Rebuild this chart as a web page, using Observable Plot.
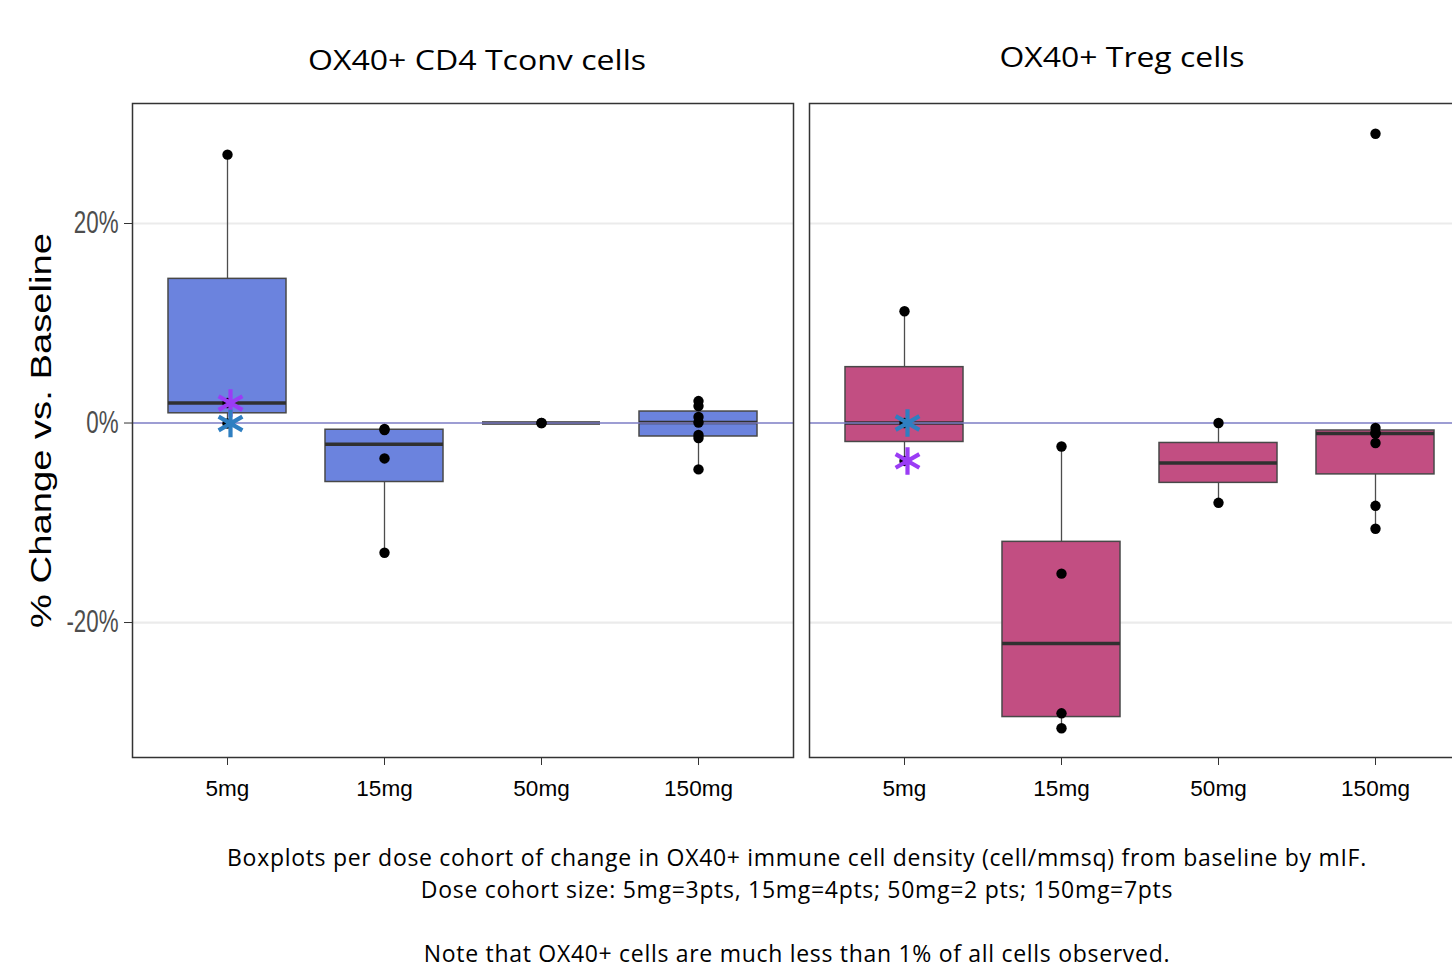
<!DOCTYPE html>
<html>
<head>
<meta charset="utf-8">
<script src="https://cdn.jsdelivr.net/npm/d3@7"></script>
<script src="https://cdn.jsdelivr.net/npm/@observablehq/plot@0.6"></script>
<style>
  body { margin: 0; background: #fff; overflow: hidden; }
  #wrap { position: relative; width: 1452px; height: 968px; overflow: hidden; background: #fff; }
  #chart { position: absolute; left: 0; top: 0; width: 1470px; }
  #chart svg { max-width: none !important; }
  #caption { position: absolute; left: 142px; width: 1310px; top: 841px; text-align: center;
             font-family: "Open Sans", Lato, sans-serif; font-size: 23px; letter-spacing: 0.7px;
             line-height: 32px; color: #000; }
</style>
</head>
<body>
<div id="wrap">
  <div id="chart"></div>
  <div id="caption">
    <div>Boxplots per dose cohort of change in OX40+ immune cell density (cell/mmsq) from baseline by mIF.</div>
    <div>Dose cohort size: 5mg=3pts, 15mg=4pts; 50mg=2 pts; 150mg=7pts</div>
    <div>&nbsp;</div>
    <div>Note that OX40+ cells are much less than 1% of all cells observed.</div>
  </div>
</div>
<script>
// ---- data (% change vs. baseline) ----
const panels = ["OX40+ CD4 Tconv cells", "OX40+ Treg cells"];
const doses = ["5mg", "15mg", "50mg", "150mg"];
const tconv5 = [-0.05, 2.0, 26.9];
const tconv15 = [-13.0, -3.55, -0.7, -0.6];
const tconv50 = [0.0, 0.0];
const tconv150 = [-4.65, -1.5, -1.2, 0.05, 0.6, 1.7, 2.2];
const treg5 = [-3.8, 0.0, 11.2];
const treg15 = [-30.6, -29.1, -15.1, -2.35];
const treg50 = [-8.0, 0.0];
const treg150 = [-10.6, -8.3, -2.0, -1.05, -1.0, -0.5, 29.0];
// highlighted 5mg patients (asterisks), one value per panel
const patientPurple = [2.0, -3.8];
const patientBlue = [-0.05, 0.0];
const yTicks = [-20, 0, 20];
const panelFill = ["#6b83de", "#c24e82"];
const starColors = ["#9b3cf5", "#2f7fc1"];

// ---- build tables ----
const series = [
  [tconv5, tconv15, tconv50, tconv150],
  [treg5, treg15, treg50, treg150]
];
const points = [];
const boxes = [];
series.forEach((row, pi) => {
  row.forEach((vals, di) => {
    vals.forEach(v => points.push({panel: panels[pi], dose: doses[di], value: v}));
    const s = vals.slice().sort(d3.ascending);
    const q1 = d3.quantileSorted(s, 0.25), med = d3.quantileSorted(s, 0.5), q3 = d3.quantileSorted(s, 0.75);
    const iqr = q3 - q1;
    const lo = d3.min(s.filter(v => v >= q1 - 1.5 * iqr));
    const hi = d3.max(s.filter(v => v <= q3 + 1.5 * iqr));
    boxes.push({panel: panels[pi], dose: doses[di], q1, med, q3, lo, hi, fill: panelFill[pi]});
  });
});
const stars = [];
panels.forEach((p, pi) => {
  stars.push({panel: p, dose: doses[0], value: patientPurple[pi], color: starColors[0]});
  stars.push({panel: p, dose: doses[0], value: patientBlue[pi], color: starColors[1]});
});

const chart = Plot.plot({
  width: 1470,
  height: 820,
  marginTop: 103,
  marginBottom: 63,
  marginLeft: 132,
  marginRight: 0,
  style: {fontFamily: "'Liberation Sans', Arial, sans-serif", background: "white", overflow: "visible", maxWidth: "none"},
  fx: {domain: panels, paddingInner: 16 / 677, paddingOuter: 0, axis: null},
  x: {domain: doses, paddingInner: 0.25, paddingOuter: 0.225, axis: null},
  y: {domain: [-33.53, 32.03], axis: null},
  color: {type: "identity"},
  marks: [
    Plot.ruleY(yTicks.filter(d => d !== 0), {stroke: "#ebebeb", strokeWidth: 2.2}),
    Plot.ruleX(boxes, {fx: "panel", x: "dose", y1: "q3", y2: "hi", stroke: "#4d4d4d", strokeWidth: 1.3}),
    Plot.ruleX(boxes, {fx: "panel", x: "dose", y1: "lo", y2: "q1", stroke: "#4d4d4d", strokeWidth: 1.3}),
    Plot.barY(boxes, {fx: "panel", x: "dose", y1: "q1", y2: "q3", fill: "fill", stroke: "#484848", strokeWidth: 1.5}),
    Plot.tickY(boxes, {fx: "panel", x: "dose", y: "med", stroke: "#303030", strokeWidth: 3.5}),
    Plot.ruleY([0], {stroke: "#7c7cc4", strokeOpacity: 0.75, strokeWidth: 2}),
    Plot.dot(points, {fx: "panel", x: "dose", y: "value", r: 5.2, fill: "black"}),
    Plot.dot(stars, {fx: "panel", x: "dose", y: "value", symbol: "asterisk", r: 13, stroke: "color", strokeWidth: 4.2, dx: 3}),
    Plot.frame({stroke: "#333", strokeWidth: 1.5}),
    Plot.axisY({ticks: yTicks, tickFormat: d => d + "%", tickSize: 8, tickPadding: 6, fontSize: 31, stroke: "#333", fill: "#4d4d4d", label: null}),
    Plot.axisX({tickSize: 8, tickPadding: 15, fontSize: 22.5, stroke: "#333", fill: "black", label: null}),
    Plot.text([panels[0]], {fx: d => d, text: () => "% Change vs. Baseline", frameAnchor: "left", rotate: -90, dx: -91, fontSize: 29, fill: "black"}),
    Plot.text([panels[0]], {fx: d => d, text: d => d, frameAnchor: "top", dy: -53, dx: 14, fontSize: 28, fontFamily: "'Open Sans'", fill: "black"}),
    Plot.text([panels[1]], {fx: d => d, text: d => d, frameAnchor: "top", dy: -56, dx: -18, fontSize: 28, fontFamily: "'Open Sans'", fill: "black"})
  ]
});
document.getElementById("chart").appendChild(chart);

// stretch text to match the reference proportions
chart.querySelectorAll('g[aria-label="y-axis tick label"] text').forEach(t => {
  const w = t.getComputedTextLength();
  t.setAttribute("textLength", (w * 0.72).toFixed(1));
  t.setAttribute("lengthAdjust", "spacingAndGlyphs");
});
const fixedLengths = {"% Change vs. Baseline": 395, "OX40+ CD4 Tconv cells": 338, "OX40+ Treg cells": 245};
chart.querySelectorAll("text").forEach(t => {
  const L = fixedLengths[t.textContent];
  if (L) {
    t.setAttribute("textLength", L);
    t.setAttribute("lengthAdjust", "spacingAndGlyphs");
    const x0 = +(t.getAttribute("x") || 0);
    t.setAttribute("x", x0 - L / 2);
    t.setAttribute("text-anchor", "start");
  }
});
</script>
</body>
</html>
